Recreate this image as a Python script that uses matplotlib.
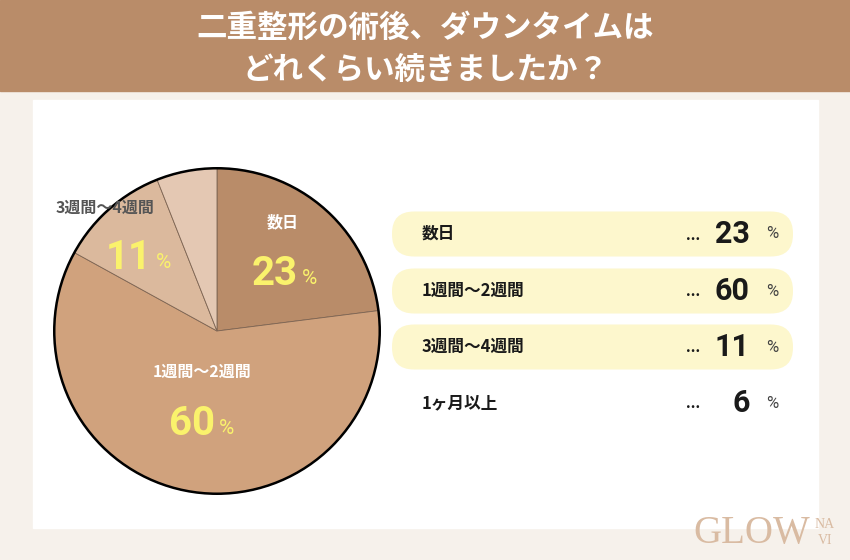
import matplotlib
matplotlib.use("Agg")
import matplotlib.pyplot as plt
from matplotlib.patches import Rectangle, FancyBboxPatch, Circle

# data
categories = ['数日', '1週間〜2週間', '3週間〜4週間', '1ヶ月以上']
values = [23, 60, 11, 6]
slice_colors = ['#b98c69', '#d0a27d', '#dbb99d', '#e4c8b3']
title_lines = ['二重整形の術後、ダウンタイムは', 'どれくらい続きましたか？']

JP = ['Noto Sans CJK JP', 'DejaVu Sans']
NUM = ['Roboto', 'DejaVu Sans']
YELLOW = '#faf26c'

W, H = 850, 560
fig = plt.figure(figsize=(W / 100, H / 100), dpi=100)

# background layer in pixel coords (y down)
ax = fig.add_axes([0, 0, 1, 1], zorder=0)
ax.set_xlim(0, W)
ax.set_ylim(H, 0)
ax.axis('off')
ax.add_patch(Rectangle((0, 0), W, H, color='#f6f1eb'))
ax.add_patch(Rectangle((0, 0), W, 91, color='#b98c69'))
ax.add_patch(Rectangle((33, 100), 785, 428, color='white'))
for i, t in enumerate(title_lines):
    ax.text(W / 2, 28 + i * 43, t, ha='center', va='center', color='white',
            fontsize=22, fontweight='bold', family=JP)

# pie in its own square axes
cx, cy, r = 217, 331, 166
ax_pie = fig.add_axes([(cx - r) / W, (H - cy - r) / H, 2 * r / W, 2 * r / H], zorder=1)
ax_pie.pie(values, colors=slice_colors, startangle=90, counterclock=False,
           wedgeprops=dict(edgecolor='#7d6452', linewidth=0.6))
ax_pie.add_patch(Circle((0, 0), 1, fill=False, edgecolor='black', linewidth=1.8))
ax_pie.set_xlim(-1.02, 1.02)
ax_pie.set_ylim(-1.02, 1.02)
ax_pie.axis('off')

# text overlay
ax_t = fig.add_axes([0, 0, 1, 1], zorder=2)
ax_t.set_xlim(0, W)
ax_t.set_ylim(H, 0)
ax_t.axis('off')

# labels inside the pie
pie_labels = [
    (0, (283, 222), (298, 274), 'white'),
    (1, (202, 372), (215, 424), 'white'),
    (2, (105, 208), (152, 258), '#555555'),
]
for idx, (lx, ly), (nx, ny), lc in pie_labels:
    ax_t.text(lx, ly, categories[idx], ha='center', va='center', color=lc,
              fontsize=11.5, fontweight='bold', family=JP)
    ax_t.text(nx, ny, str(values[idx]), ha='right', va='center', color=YELLOW,
              fontsize=29, fontweight='bold', family=NUM)
    ax_t.text(nx + 4, ny + 4, '%', ha='left', va='center', color=YELLOW,
              fontsize=15, family=NUM)

# list on the right
row_y = [234, 291, 347, 403]
for i, (cat, val) in enumerate(zip(categories, values)):
    y = row_y[i]
    if i < 3:
        ax_t.add_patch(FancyBboxPatch((392, y - 22.5), 401, 45,
                                      boxstyle='round,pad=0,rounding_size=22',
                                      facecolor='#fdf7cd', edgecolor='none'))
    ax_t.text(422, y, cat, ha='left', va='center', color='#1a1a1a',
              fontsize=12, fontweight='bold', family=JP)
    ax_t.text(693, y + 1, '...', ha='center', va='center', color='#1a1a1a',
              fontsize=12, fontweight='bold', family=NUM)
    ax_t.text(750, y, str(val), ha='right', va='center', color='#1a1a1a',
              fontsize=22, fontweight='bold', family=NUM)
    ax_t.text(772, y, '%', ha='center', va='center', color='#444444',
              fontsize=12, family=NUM)

# logo
ax_t.text(693, 533, 'GLOW', ha='left', va='center', color='#d9bba2',
          fontsize=28, family=['Liberation Serif'])
ax_t.text(825, 524, 'NA', ha='center', va='center', color='#d9bba2',
          fontsize=10, family=['Liberation Serif'])
ax_t.text(825, 541, 'VI', ha='center', va='center', color='#d9bba2',
          fontsize=10, family=['Liberation Serif'])

fig.savefig('out.png', dpi=100)
